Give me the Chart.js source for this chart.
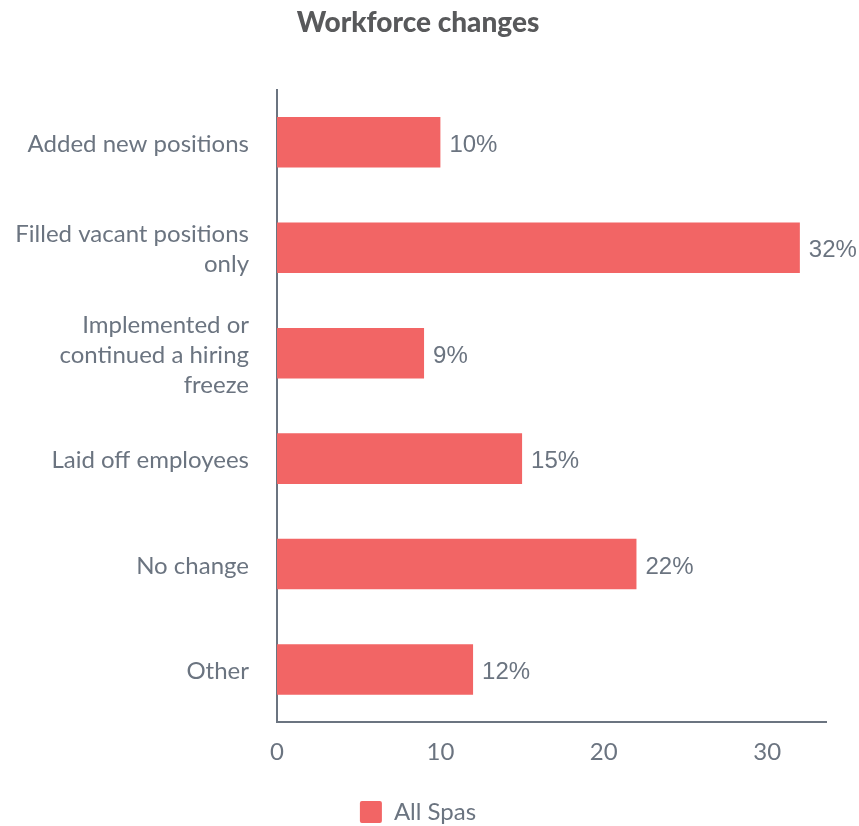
<!DOCTYPE html>
<html>
<head>
<meta charset="utf-8">
<script src="https://cdn.jsdelivr.net/npm/chart.js@4"></script>
<style>
  html, body { margin: 0; padding: 0; background: #fff; overflow: hidden; }
  .chart { width: 859px; height: 834px; position: relative; }
</style>
</head>
<body>
<div class="chart"><canvas id="myChart"></canvas></div>
<script>
// 항목 / 값
const categories = [
    'Added new positions',
    ['Filled vacant positions', 'only'],
    ['Implemented or', 'continued a hiring', 'freeze'],
    'Laid off employees',
    'No change',
    'Other'
];
const allSpas = [10, 32, 9, 15, 22, 12];
const xTicks = [0, 10, 20, 30];

const gray = '#6b7480';
const barColor = '#f26565';

// 막대 끝에 % 값 표시
const valueLabels = {
    id: 'valueLabels',
    afterDatasetsDraw(chart) {
        const ctx = chart.ctx;
        ctx.save();
        ctx.font = '24px "Liberation Sans", Arial, sans-serif';
        ctx.fillStyle = gray;
        ctx.textAlign = 'left';
        ctx.textBaseline = 'middle';
        chart.getDatasetMeta(0).data.forEach((bar, i) => {
            ctx.fillText(allSpas[i] + '%', bar.x + 9, bar.y + 3);
        });
        ctx.restore();
    }
};

const canvas = document.getElementById('myChart');
new Chart(canvas.getContext('2d'), {
    type: 'bar',
    data: {
        labels: categories,
        datasets: [{
            label: 'All Spas',
            data: allSpas,
            backgroundColor: barColor,
            borderWidth: 0,
            categoryPercentage: 0.8,
            barPercentage: 0.6
        }]
    },
    options: {
        indexAxis: 'y',
        responsive: true,
        maintainAspectRatio: false,
        animation: false,
        layout: { padding: { left: 10, right: 33, top: 6, bottom: 0 } },
        plugins: {
            title: {
                display: true,
                text: 'Workforce changes',
                color: '#58595b',
                font: { family: 'Lato', size: 28, weight: 900 },
                padding: { top: 0, bottom: 50 }
            },
            legend: {
                position: 'bottom',
                labels: {
                    color: gray,
                    font: { family: 'Lato', size: 24 },
                    boxWidth: 22,
                    boxHeight: 22,
                    useBorderRadius: true,
                    borderRadius: 2,
                    padding: 10
                }
            },
            tooltip: { enabled: false }
        },
        scales: {
            x: {
                min: 0,
                max: 33.6,
                grid: { display: false, drawTicks: false },
                border: { display: true, color: gray, width: 2 },
                afterBuildTicks: axis => { axis.ticks = xTicks.map(v => ({ value: v })); },
                afterFit: axis => { axis.height += 7; },
                ticks: {
                    color: gray,
                    font: { family: 'Lato', size: 24 },
                    padding: 16
                }
            },
            y: {
                grid: { display: false, drawTicks: false },
                border: { display: true, color: gray, width: 2 },
                afterFit: axis => { axis.width = 267; },
                ticks: {
                    color: gray,
                    font: { family: 'Lato', size: 24, lineHeight: 1.25 },
                    padding: 28,
                    labelOffset: 2
                }
            }
        }
    },
    plugins: [valueLabels]
});
</script>
</body>
</html>
